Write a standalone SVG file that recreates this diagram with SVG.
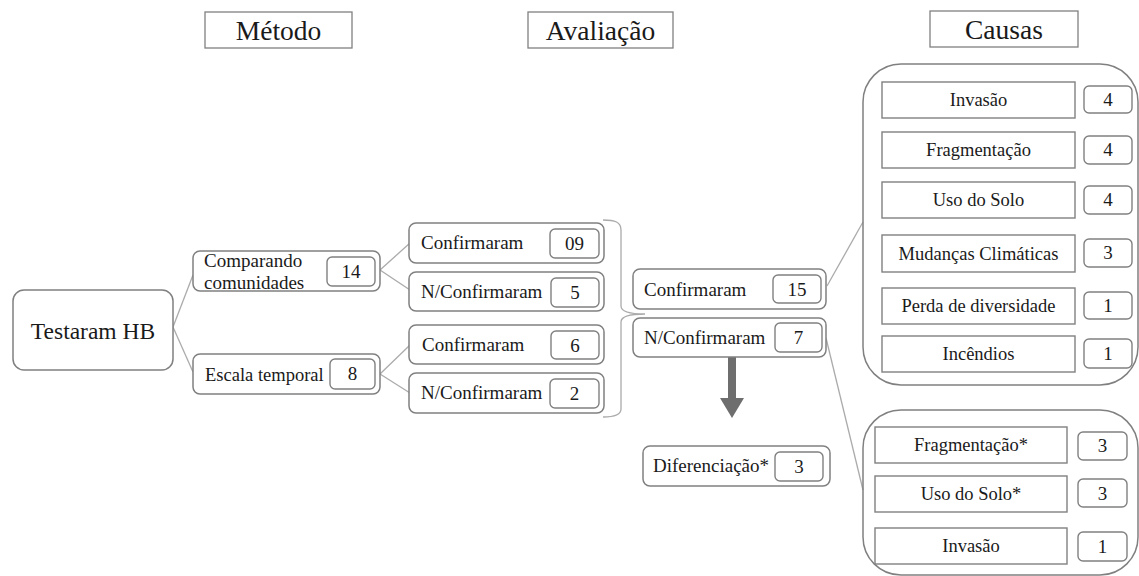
<svg xmlns="http://www.w3.org/2000/svg" width="1139" height="576" viewBox="0 0 1139 576">
<style>
text{font-family:"Liberation Serif","Times New Roman",serif;fill:#1a1a1a}
.hdr{fill:#fff;stroke:#808080;stroke-width:1.3}
.rbox{fill:#fff;stroke:#808080;stroke-width:1.5}
.nbox{fill:#fff;stroke:#808080;stroke-width:1.4}
.cbox{fill:#fff;stroke:#808080;stroke-width:1.4}
.cont{fill:none;stroke:#808080;stroke-width:1.5}
.ln{fill:none;stroke:#ababab;stroke-width:1.3}
.h{font-size:27.5px;text-anchor:middle}
.t{font-size:19px}
.c{font-size:18.5px;text-anchor:middle}
.n{font-size:19px;text-anchor:middle}
</style>
<rect width="1139" height="576" fill="#fff"/>

<g id="headers">
<rect class="hdr" x="205" y="12" width="147" height="36"/>
<text class="h" x="278.5" y="40">Método</text>
<rect class="hdr" x="528" y="12" width="145" height="36"/>
<text class="h" x="600.5" y="40">Avaliação</text>
<rect class="hdr" x="930" y="11" width="148" height="36"/>
<text class="h" x="1004" y="39">Causas</text>
</g>

<g id="connectors">
<path class="ln" d="M173,327 L193,275"/>
<path class="ln" d="M173,327 L193,372"/>
<path class="ln" d="M380,270 L410,243"/>
<path class="ln" d="M380,270 L410,290"/>
<path class="ln" d="M380,374 L410,345"/>
<path class="ln" d="M380,374 L410,393"/>
<path class="ln" d="M603,220 C615,220 621,222 621,230 L621,306 C621,312 630,314 645,314 C630,314 621,316 621,322 L621,409 C621,415 615,417 603,417"/>
<path class="ln" d="M827,286 L863,222"/>
<path class="ln" d="M826,338 L863,490"/>
<g id="arrow" fill="#6e6e6e">
<rect x="728" y="357" width="8" height="42"/>
<polygon points="720,398 744,398 732,418"/>
</g>
</g>

<g id="testaram">
<rect class="rbox" x="13" y="290" width="160" height="80" rx="11"/>
<text x="93" y="339" style="font-size:23.5px;text-anchor:middle">Testaram HB</text>
</g>

<g id="comparando">
<rect class="rbox" x="193" y="251" width="187" height="40" rx="7"/>
<text class="t" x="204" y="267">Comparando</text>
<text class="t" x="204" y="289">comunidades</text>
<rect class="nbox" x="327" y="257" width="48" height="29" rx="5"/>
<text class="n" x="351" y="278">14</text>
</g>

<g id="escala">
<rect class="rbox" x="193" y="354" width="187" height="40" rx="7"/>
<text x="205" y="381" style="font-size:18.5px">Escala temporal</text>
<rect class="nbox" x="330" y="359" width="45" height="30" rx="5"/>
<text class="n" x="352.5" y="380">8</text>
</g>

<g id="conf09">
<rect class="rbox" x="409" y="223" width="195" height="40" rx="7"/>
<text class="t" x="421" y="249">Confirmaram</text>
<rect class="nbox" x="550" y="229" width="49" height="29" rx="5"/>
<text class="n" x="574.5" y="250">09</text>
</g>

<g id="nconf5">
<rect class="rbox" x="409" y="272" width="195" height="39" rx="7"/>
<text class="t" x="421" y="298">N/Confirmaram</text>
<rect class="nbox" x="551" y="278" width="48" height="29" rx="5"/>
<text class="n" x="575" y="299">5</text>
</g>

<g id="conf6">
<rect class="rbox" x="409" y="325" width="195" height="39" rx="7"/>
<text class="t" x="422" y="351">Confirmaram</text>
<rect class="nbox" x="551" y="331" width="48" height="28" rx="5"/>
<text class="n" x="575" y="352">6</text>
</g>

<g id="nconf2">
<rect class="rbox" x="409" y="373" width="195" height="40" rx="7"/>
<text class="t" x="421" y="399">N/Confirmaram</text>
<rect class="nbox" x="550" y="379" width="49" height="29" rx="5"/>
<text class="n" x="574.5" y="400">2</text>
</g>

<g id="conf15">
<rect class="rbox" x="633" y="269" width="193" height="40" rx="7"/>
<text class="t" x="644" y="296">Confirmaram</text>
<rect class="nbox" x="773" y="275" width="48" height="28" rx="5"/>
<text class="n" x="797" y="296">15</text>
</g>

<g id="nconf7">
<rect class="rbox" x="633" y="318" width="193" height="39" rx="7"/>
<text class="t" x="644" y="344">N/Confirmaram</text>
<rect class="nbox" x="775" y="323" width="47" height="29" rx="5"/>
<text class="n" x="798.5" y="344">7</text>
</g>

<g id="diferenciacao">
<rect class="rbox" x="643" y="446" width="187" height="40" rx="7"/>
<text class="t" x="653" y="472">Diferenciação*</text>
<rect class="nbox" x="775" y="452" width="48" height="29" rx="5"/>
<text class="n" x="799" y="473">3</text>
</g>

<g id="causas-confirmaram">
<rect class="cont" x="863" y="64" width="275" height="321" rx="38"/>
<rect class="cbox" x="882" y="82" width="193" height="36"/>
<text class="c" x="978.5" y="106">Invasão</text>
<rect class="nbox" x="1084" y="86" width="48" height="27" rx="5"/>
<text class="n" x="1108" y="106">4</text>
<rect class="cbox" x="882" y="132" width="193" height="36"/>
<text class="c" x="978.5" y="156">Fragmentação</text>
<rect class="nbox" x="1084" y="136" width="48" height="28" rx="5"/>
<text class="n" x="1108" y="156">4</text>
<rect class="cbox" x="882" y="182" width="193" height="36"/>
<text class="c" x="978.5" y="206">Uso do Solo</text>
<rect class="nbox" x="1084" y="186" width="48" height="28" rx="5"/>
<text class="n" x="1108" y="206">4</text>
<rect class="cbox" x="882" y="235" width="193" height="37"/>
<text class="c" x="978.5" y="260">Mudanças Climáticas</text>
<rect class="nbox" x="1084" y="239" width="48" height="28" rx="5"/>
<text class="n" x="1108" y="259">3</text>
<rect class="cbox" x="882" y="288" width="193" height="36"/>
<text class="c" x="978.5" y="312">Perda de diversidade</text>
<rect class="nbox" x="1084" y="292" width="48" height="27" rx="5"/>
<text class="n" x="1108" y="312">1</text>
<rect class="cbox" x="882" y="336" width="193" height="36"/>
<text class="c" x="978.5" y="360">Incêndios</text>
<rect class="nbox" x="1084" y="339" width="48" height="29" rx="5"/>
<text class="n" x="1108" y="360">1</text>
</g>

<g id="causas-nconfirmaram">
<rect class="cont" x="863" y="410" width="275" height="165" rx="38"/>
<rect class="cbox" x="875" y="427" width="192" height="36"/>
<text class="c" x="971" y="451">Fragmentação*</text>
<rect class="nbox" x="1078" y="432" width="49" height="28" rx="5"/>
<text class="n" x="1102.5" y="452">3</text>
<rect class="cbox" x="875" y="476" width="192" height="36"/>
<text class="c" x="971" y="500">Uso do Solo*</text>
<rect class="nbox" x="1078" y="479" width="49" height="28" rx="5"/>
<text class="n" x="1102.5" y="500">3</text>
<rect class="cbox" x="875" y="528" width="192" height="36"/>
<text class="c" x="971" y="552">Invasão</text>
<rect class="nbox" x="1078" y="532" width="49" height="29" rx="5"/>
<text class="n" x="1102.5" y="553">1</text>
</g>
</svg>
